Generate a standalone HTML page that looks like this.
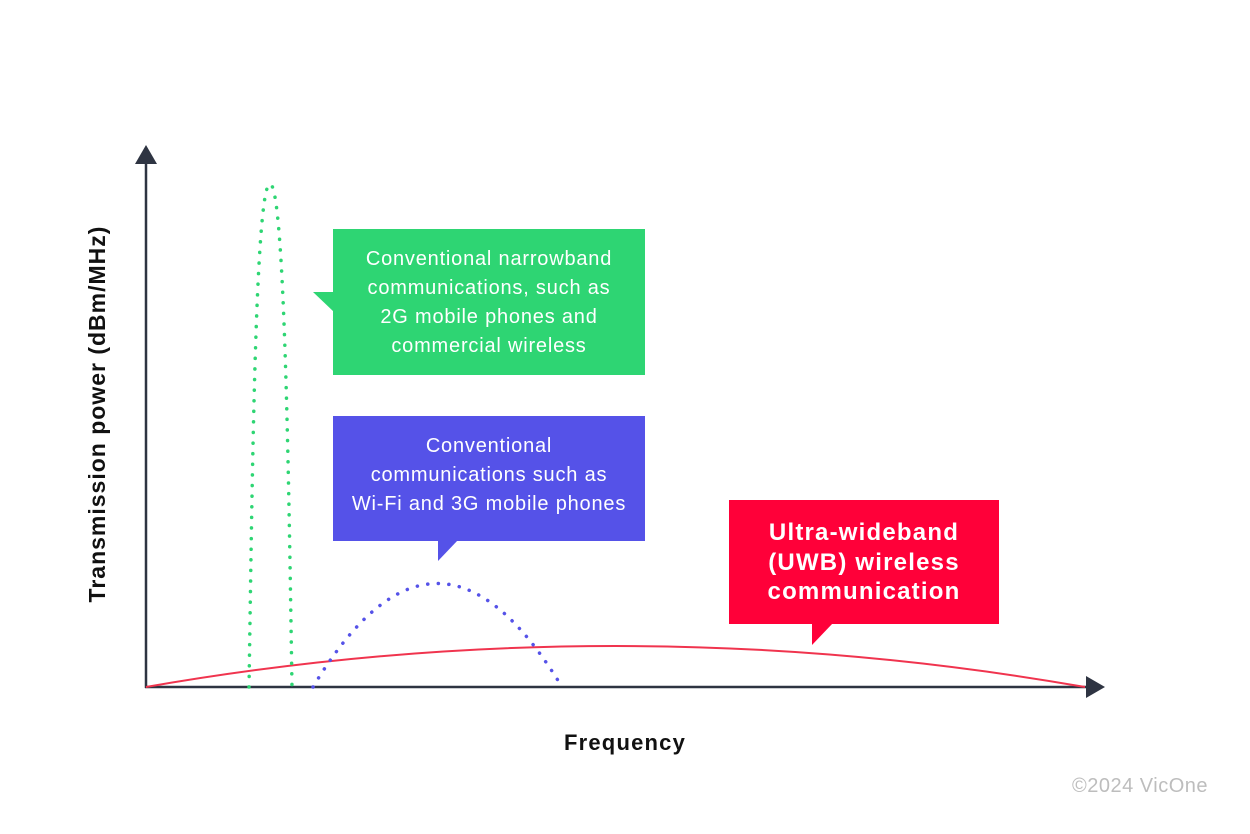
<!DOCTYPE html>
<html><head><meta charset="utf-8"><style>
body{margin:0;background:#fff;width:1250px;height:834px;overflow:hidden}
svg{display:block}
text{font-family:"Liberation Sans",sans-serif}
</style></head><body>
<svg width="1250" height="834" viewBox="0 0 1250 834">
<line x1="146" y1="160" x2="146" y2="688" stroke="#2e3442" stroke-width="2.5"/>
<polygon points="146,145 135,164 157,164" fill="#2e3442"/>
<line x1="145" y1="687" x2="1090" y2="687" stroke="#2e3442" stroke-width="2.5"/>
<polygon points="1105,687 1086,676 1086,698" fill="#2e3442"/>
<path d="M146,687 Q615,605 1085,687" fill="none" stroke="#f0344e" stroke-width="2"/>
<path d="M249,687 C252,500 255,184 270,184 C285,184 289,500 292,687" fill="none" stroke="#2ed573" stroke-width="3.5" stroke-dasharray="0.1 10.5" stroke-linecap="round"/>
<path d="M313,687 Q437,480 562,687" fill="none" stroke="#5552e8" stroke-width="3.5" stroke-dasharray="0.1 10.5" stroke-linecap="round"/>
<rect x="333" y="229" width="312" height="146" fill="#2ed573"/>
<polygon points="313,292 334,292 334,312" fill="#2ed573"/>
<g fill="#fff" font-size="20" letter-spacing="0.8" text-anchor="middle">
<text x="489" y="265">Conventional narrowband</text>
<text x="489" y="294">communications, such as</text>
<text x="489" y="323">2G mobile phones and</text>
<text x="489" y="352">commercial wireless</text>
</g>
<rect x="333" y="416" width="312" height="125" fill="#5552e8"/>
<polygon points="438,540 458,540 438,561" fill="#5552e8"/>
<g fill="#fff" font-size="20" letter-spacing="0.8" text-anchor="middle">
<text x="489" y="452">Conventional</text>
<text x="489" y="481">communications such as</text>
<text x="489" y="510">Wi-Fi and 3G mobile phones</text>
</g>
<rect x="729" y="500" width="270" height="124" fill="#ff0039"/>
<polygon points="812,623 833,623 812,645" fill="#ff0039"/>
<g fill="#fff" font-size="24" font-weight="bold" letter-spacing="1.2" text-anchor="middle">
<text x="864" y="540">Ultra-wideband</text>
<text x="864" y="570">(UWB) wireless</text>
<text x="864" y="599">communication</text>
</g>
<text x="625" y="750" font-size="22" font-weight="bold" letter-spacing="1.2" fill="#111" text-anchor="middle">Frequency</text>
<text transform="translate(105,414) rotate(-90)" font-size="23" font-weight="bold" letter-spacing="1" fill="#111" text-anchor="middle">Transmission power (dBm/MHz)</text>
<text x="1208" y="792" font-size="20" letter-spacing="0.5" fill="#bdbdbd" text-anchor="end">©2024 VicOne</text>
</svg>
</body></html>
